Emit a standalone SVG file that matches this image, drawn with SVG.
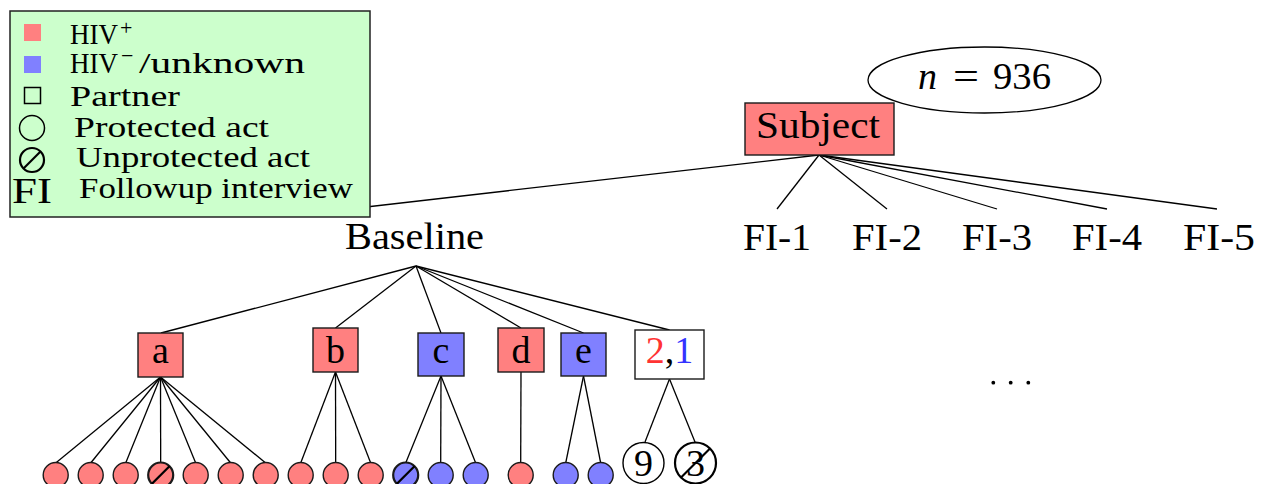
<svg xmlns="http://www.w3.org/2000/svg" width="1262" height="484" viewBox="0 0 1262 484">
<style>
text{font-family:"Liberation Serif","Times New Roman",serif;fill:#000}
.main{font-size:38px}
.leg{font-size:29px}
.red{fill:#ff8080;stroke:#1a1a1a;stroke-width:1.4}
.blue{fill:#8080ff;stroke:#1a1a1a;stroke-width:1.4}
.white{fill:#fff;stroke:#1a1a1a;stroke-width:1.4}
.edge{stroke:#000;stroke-width:1.3;fill:none}
.cross{stroke:#000;stroke-width:2.2}
.thick{stroke-width:2.2}
</style>
<defs>
<circle id="act" r="12.5"/>
</defs>

<g id="connectors" class="edge">
<line x1="819" y1="155" x2="340" y2="210"/>
<line x1="819" y1="155" x2="777" y2="209"/>
<line x1="819" y1="155" x2="887" y2="209"/>
<line x1="819" y1="155" x2="997" y2="209"/>
<line x1="819" y1="155" x2="1107" y2="209"/>
<line x1="819" y1="155" x2="1217" y2="209"/>
<line x1="416" y1="266" x2="161" y2="333"/>
<line x1="416" y1="266" x2="335.5" y2="328"/>
<line x1="416" y1="266" x2="441" y2="333"/>
<line x1="416" y1="266" x2="521" y2="328"/>
<line x1="416" y1="266" x2="583.5" y2="333"/>
<line x1="416" y1="266" x2="669.5" y2="330"/>
<line x1="160.5" y1="377" x2="55.7" y2="463"/>
<line x1="160.5" y1="377" x2="90.7" y2="463"/>
<line x1="160.5" y1="377" x2="125.7" y2="463"/>
<line x1="160.5" y1="377" x2="160.7" y2="463"/>
<line x1="160.5" y1="377" x2="195.7" y2="463"/>
<line x1="160.5" y1="377" x2="230.7" y2="463"/>
<line x1="160.5" y1="377" x2="265.7" y2="463"/>
<line x1="335.5" y1="372" x2="300.7" y2="463"/>
<line x1="335.5" y1="372" x2="335.7" y2="463"/>
<line x1="335.5" y1="372" x2="370.7" y2="463"/>
<line x1="441" y1="376" x2="405.7" y2="463"/>
<line x1="441" y1="376" x2="440.7" y2="463"/>
<line x1="441" y1="376" x2="475.7" y2="463"/>
<line x1="521" y1="372" x2="520.7" y2="463"/>
<line x1="583.5" y1="376" x2="565.7" y2="463"/>
<line x1="583.5" y1="376" x2="600.7" y2="463"/>
<line x1="669.5" y1="379" x2="645" y2="442"/>
<line x1="669.5" y1="379" x2="695" y2="442"/>
</g>

<g id="legend">
<rect x="10" y="11" width="360" height="206" fill="#ccffcc" stroke="#222" stroke-width="1.5"/>
<rect x="24" y="24" width="17" height="17" fill="#ff8080"/>
<rect x="24" y="56" width="17" height="17" fill="#8080ff"/>
<rect x="24.5" y="87.5" width="16" height="16" fill="none" stroke="#000" stroke-width="1.5"/>
<circle cx="32" cy="128" r="12.5" fill="none" stroke="#000" stroke-width="1.5"/>
<circle cx="32" cy="160" r="12" fill="none" stroke="#000" stroke-width="2.2"/>
<line x1="23.5" y1="168.5" x2="40.5" y2="151.5" stroke="#000" stroke-width="2.2"/>
<text class="leg" x="70" y="44" textLength="48" lengthAdjust="spacingAndGlyphs">HIV</text>
<text x="120" y="35" font-size="22">+</text>
<text class="leg" x="70" y="73" textLength="48" lengthAdjust="spacingAndGlyphs">HIV</text>
<text x="121" y="63" font-size="22">−</text>
<text class="leg" x="139" y="73" textLength="166" lengthAdjust="spacingAndGlyphs">/unknown</text>
<text class="leg" x="70" y="106" textLength="110" lengthAdjust="spacingAndGlyphs">Partner</text>
<text class="leg" x="74" y="137" textLength="195" lengthAdjust="spacingAndGlyphs">Protected act</text>
<text class="leg" x="76" y="167" textLength="234" lengthAdjust="spacingAndGlyphs">Unprotected act</text>
<text x="12" y="203" font-size="36" textLength="40" lengthAdjust="spacingAndGlyphs">FI</text>
<text class="leg" x="79" y="198" textLength="274" lengthAdjust="spacingAndGlyphs">Followup interview</text>
</g>

<g id="count">
<ellipse cx="984.5" cy="80" rx="116.5" ry="33" fill="#fff" stroke="#000" stroke-width="1.3"/>
<text class="main" x="918" y="89" font-style="italic">n</text>
<text class="main" x="966" y="89" text-anchor="middle" textLength="26" lengthAdjust="spacingAndGlyphs">=</text>
<text class="main" x="993" y="89" textLength="58" lengthAdjust="spacingAndGlyphs">936</text>
</g>

<g id="subject">
<rect class="red" x="745" y="103" width="149" height="52"/>
<text class="main" x="756" y="138" textLength="124" lengthAdjust="spacingAndGlyphs">Subject</text>
</g>

<g id="baseline"><text class="main" x="345" y="249" textLength="139" lengthAdjust="spacingAndGlyphs">Baseline</text></g>
<g id="fi1"><text class="main" x="777" y="250" text-anchor="middle" textLength="68" lengthAdjust="spacingAndGlyphs">FI-1</text></g>
<g id="fi2"><text class="main" x="887" y="250" text-anchor="middle" textLength="70" lengthAdjust="spacingAndGlyphs">FI-2</text></g>
<g id="fi3"><text class="main" x="997" y="250" text-anchor="middle" textLength="70" lengthAdjust="spacingAndGlyphs">FI-3</text></g>
<g id="fi4"><text class="main" x="1107" y="250" text-anchor="middle" textLength="70" lengthAdjust="spacingAndGlyphs">FI-4</text></g>
<g id="fi5"><text class="main" x="1219" y="250" text-anchor="middle" textLength="72" lengthAdjust="spacingAndGlyphs">FI-5</text></g>

<g id="partner-a"><rect class="red" x="138" y="333" width="45" height="44"/><text class="main" x="160.5" y="363" text-anchor="middle">a</text></g>
<g id="partner-b"><rect class="red" x="313" y="328" width="45" height="44"/><text class="main" x="335.5" y="363" text-anchor="middle">b</text></g>
<g id="partner-c"><rect class="blue" x="418" y="333" width="46" height="43"/><text class="main" x="441" y="363" text-anchor="middle">c</text></g>
<g id="partner-d"><rect class="red" x="498" y="328" width="46" height="44"/><text class="main" x="521" y="363" text-anchor="middle">d</text></g>
<g id="partner-e"><rect class="blue" x="561" y="333" width="45" height="43"/><text class="main" x="583.5" y="363" text-anchor="middle">e</text></g>
<g id="partner-other"><rect class="white" x="635" y="330" width="69" height="49"/><text class="main" x="669.5" y="363" text-anchor="middle"><tspan fill="#ff3333">2</tspan>,<tspan fill="#3333ff">1</tspan></text></g>

<g id="acts-a">
<use href="#act" x="55.7" y="475" class="red"/>
<use href="#act" x="90.7" y="475" class="red"/>
<use href="#act" x="125.7" y="475" class="red"/>
<use href="#act" x="160.7" y="475" class="red thick"/>
<line class="cross" x1="151.9" y1="483.8" x2="169.5" y2="466.2"/>
<use href="#act" x="195.7" y="475" class="red"/>
<use href="#act" x="230.7" y="475" class="red"/>
<use href="#act" x="265.7" y="475" class="red"/>
</g>
<g id="acts-b">
<use href="#act" x="300.7" y="475" class="red"/>
<use href="#act" x="335.7" y="475" class="red"/>
<use href="#act" x="370.7" y="475" class="red"/>
</g>
<g id="acts-c">
<use href="#act" x="405.7" y="475" class="blue thick"/>
<line class="cross" x1="396.9" y1="483.8" x2="414.5" y2="466.2"/>
<use href="#act" x="440.7" y="475" class="blue"/>
<use href="#act" x="475.7" y="475" class="blue"/>
</g>
<g id="acts-d"><use href="#act" x="520.7" y="475" class="red"/></g>
<g id="acts-e">
<use href="#act" x="565.7" y="475" class="blue"/>
<use href="#act" x="600.7" y="475" class="blue"/>
</g>
<g id="acts-other">
<circle cx="643.5" cy="463" r="20.5" fill="#fff" stroke="#000" stroke-width="1.4"/>
<text class="main" x="643.5" y="476" text-anchor="middle">9</text>
<circle cx="695.5" cy="463" r="20.5" fill="#fff" stroke="#000" stroke-width="2.2"/>
<text class="main" x="695.5" y="476" text-anchor="middle">3</text>
<line class="cross" x1="681" y1="477.5" x2="710" y2="448.5"/>
</g>

<g id="more">
<circle cx="993.3" cy="382.7" r="1.9"/>
<circle cx="1010.7" cy="382.7" r="1.9"/>
<circle cx="1028.3" cy="382.7" r="1.9"/>
</g>
</svg>
